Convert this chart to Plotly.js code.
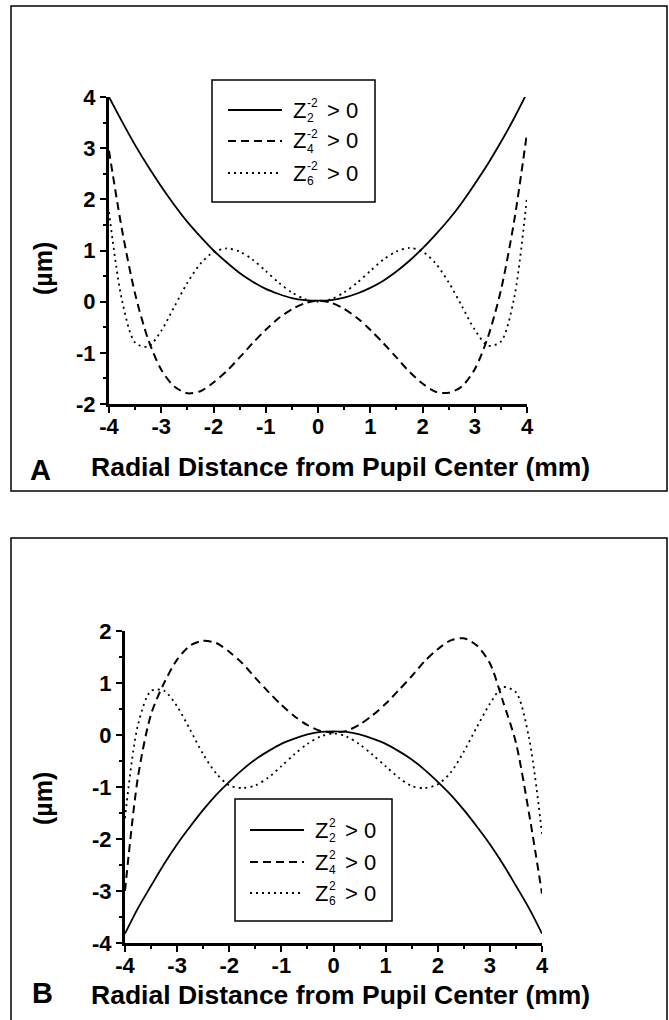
<!DOCTYPE html>
<html><head><meta charset="utf-8">
<script src="https://cdn.plot.ly/plotly-3.0.1.min.js"></script>
<style>html,body{margin:0;padding:0;background:#fff}#chart{width:669px;height:1020px}</style>
</head><body><div id="chart"></div>
<script>
// ---------- data ----------
const radialDistance = [-4,-3.75,-3.5,-3.25,-3,-2.75,-2.5,-2.25,-2,-1.75,-1.5,-1.25,-1,-0.75,-0.5,-0.25,0,
  0.25,0.5,0.75,1,1.25,1.5,1.75,2,2.25,2.5,2.75,3,3.25,3.5,3.75,4];

// Panel A
const aZ2 = [4.0,3.52,3.06,2.64,2.25,1.89,1.56,1.27,1.0,0.77,0.56,0.39,0.25,0.15,0.07,0.03,0.02,
  0.03,0.08,0.16,0.27,0.41,0.59,0.8,1.04,1.31,1.6,1.93,2.3,2.69,3.12,3.58,4.08];
const aZ4 = [2.95,1.4,0.15,-0.74,-1.33,-1.66,-1.79,-1.75,-1.58,-1.36,-1.09,-0.81,-0.55,-0.32,-0.15,-0.03,0.02,
  -0.02,-0.14,-0.32,-0.55,-0.81,-1.09,-1.37,-1.6,-1.76,-1.78,-1.66,-1.32,-0.7,0.22,1.55,3.3];
const aZ6 = [1.75,0.02,-0.8,-0.88,-0.57,-0.1,0.37,0.74,0.97,1.04,0.98,0.82,0.6,0.37,0.18,0.05,0.0,
  0.05,0.18,0.37,0.6,0.82,0.98,1.05,0.98,0.75,0.38,-0.08,-0.55,-0.86,-0.78,0.05,2.05];

// Panel B
const bZ2 = [-3.82,-3.33,-2.9,-2.48,-2.1,-1.76,-1.44,-1.15,-0.9,-0.67,-0.47,-0.31,-0.17,-0.07,0.01,0.06,0.07,
  0.06,0.01,-0.07,-0.17,-0.31,-0.47,-0.67,-0.9,-1.15,-1.44,-1.76,-2.1,-2.48,-2.9,-3.33,-3.82];
const bZ4 = [-3.0,-0.8,0.4,1.0,1.45,1.72,1.81,1.77,1.6,1.38,1.1,0.83,0.58,0.36,0.19,0.08,0.05,
  0.08,0.2,0.38,0.6,0.86,1.13,1.42,1.65,1.82,1.86,1.72,1.38,0.65,-0.15,-1.5,-3.05];
const bZ6 = [-1.6,0.2,0.85,0.85,0.55,0.1,-0.37,-0.74,-0.97,-1.02,-0.97,-0.82,-0.6,-0.37,-0.17,-0.03,0.03,
  -0.03,-0.18,-0.38,-0.6,-0.82,-0.98,-1.02,-0.95,-0.72,-0.32,0.15,0.6,0.92,0.82,-0.05,-1.9];

const xTickVals = [-4,-3,-2,-1,0,1,2,3,4];
const xTickText = ['-4','-3','-2','-1','0','1','2','3','4'];
const yTickValsA = [-2,-1,0,1,2,3,4];
const yTickTextA = ['-2','-1','0','1','2','3','4'];
const yTickValsB = [-4,-3,-2,-1,0,1,2];
const yTickTextB = ['-4','-3','-2','-1','0','1','2'];

const legendSubs = ['2','4','6'];
const legendSupA = '-2';
const legendSupB = '2';
const panelLetters = ['A','B'];
const xTitle = 'Radial Distance from Pupil Center (mm)';
const yTitle = '(µm)';

// ---------- styling ----------
const W = 669, H = 1020;
const FONT = 'Liberation Sans, Arial, Helvetica, sans-serif';
const px = v => v / W;
const py = v => 1 - v / H;
const styles = [
  {width: 1.8, dash: 'solid'},
  {width: 2, dash: '8px,5px'},
  {width: 1.8, dash: '2px,4px'}
];

function tr(y, s, xa, ya, name) {
  return {x: radialDistance, y: y, type: 'scatter', mode: 'lines', name: name,
    line: {color: '#000', width: styles[s].width, dash: styles[s].dash, shape: 'spline', smoothing: 0.8},
    xaxis: xa, yaxis: ya, showlegend: false, hoverinfo: 'skip'};
}

const data = [
  tr(aZ2, 0, 'x', 'y', 'Z2-2'), tr(aZ4, 1, 'x', 'y', 'Z4-2'), tr(aZ6, 2, 'x', 'y', 'Z6-2'),
  tr(bZ2, 0, 'x2', 'y2', 'Z22'), tr(bZ4, 1, 'x2', 'y2', 'Z42'), tr(bZ6, 2, 'x2', 'y2', 'Z62')
];

const axBase = {
  showgrid: false, zeroline: false, showline: true, linewidth: 3, linecolor: '#000',
  ticks: 'outside', ticklen: 6, tickwidth: 2, tickcolor: '#000', tickmode: 'array',
  tickfont: {family: FONT, size: 22, color: '#000', weight: 'bold'},
  minor: {dtick: 0.5, ticks: 'outside', ticklen: 3, tickwidth: 2, tickcolor: '#000'},
  fixedrange: true, mirror: false
};
const xExtra = {ticklabelstandoff: -5};

const layout = {
  width: W, height: H, margin: {l: 0, r: 0, t: 0, b: 0},
  paper_bgcolor: '#fff', plot_bgcolor: 'rgba(0,0,0,0)', showlegend: false,
  xaxis: Object.assign({}, axBase, xExtra, {domain: [px(109), px(527)], range: [-4, 4], anchor: 'y',
    tickvals: xTickVals, ticktext: xTickText}),
  yaxis: Object.assign({}, axBase, {domain: [py(404), py(97)], range: [-2, 4], anchor: 'x',
    tickvals: yTickValsA, ticktext: yTickTextA}),
  xaxis2: Object.assign({}, axBase, xExtra, {domain: [px(125), px(542)], range: [-4, 4], anchor: 'y2',
    tickvals: xTickVals, ticktext: xTickText}),
  yaxis2: Object.assign({}, axBase, {domain: [py(943), py(631)], range: [-4, 2], anchor: 'x2',
    tickvals: yTickValsB, ticktext: yTickTextB}),
  shapes: [],
  annotations: []
};

const S = layout.shapes, A = layout.annotations;
// panel frames
S.push({type: 'rect', xref: 'paper', yref: 'paper', x0: px(11), x1: px(667), y0: py(491), y1: py(6),
  line: {color: '#000', width: 1.5}});
S.push({type: 'path', xref: 'paper', yref: 'paper',
  path: `M ${px(11)} ${py(1021)} L ${px(11)} ${py(538)} L ${px(667)} ${py(538)} L ${px(667)} ${py(1021)}`,
  line: {color: '#000', width: 1.5}});

function ann(x, y, text, size, opts) {
  return Object.assign({xref: 'paper', yref: 'paper', x: px(x), y: py(y), text: text, showarrow: false,
    xanchor: 'center', yanchor: 'middle', borderpad: 0, font: {family: FONT, size: size, color: '#000'}}, opts || {});
}
const bold = s => ({family: FONT, size: s, color: '#000', weight: 'bold'});

// titles and panel letters
A.push(ann(340, 467, xTitle, 26.5, {font: bold(26.5)}));
A.push(ann(340, 995, xTitle, 26.5, {font: bold(26.5)}));
A.push(ann(43, 269, yTitle, 25, {textangle: -90, font: bold(25)}));
A.push(ann(43, 799, yTitle, 25, {textangle: -90, font: bold(25)}));
A.push(ann(40, 470, panelLetters[0], 29, {font: bold(29)}));
A.push(ann(42, 993, panelLetters[1], 29, {font: bold(29)}));

// legends
function legend(box, lx0, lx1, ys, zx, sup, gtOffset) {
  S.push({type: 'rect', xref: 'paper', yref: 'paper', x0: px(box[0]), x1: px(box[1]), y0: py(box[3]), y1: py(box[2]),
    line: {color: '#000', width: 1.5}, fillcolor: '#fff'});
  ys.forEach((ly, i) => {
    S.push({type: 'line', xref: 'paper', yref: 'paper', x0: px(lx0), x1: px(lx1), y0: py(ly), y1: py(ly),
      line: {color: '#000', width: styles[i].width, dash: styles[i].dash}});
    const f = (s) => ({family: FONT, size: s, color: '#000'});
    A.push(ann(zx, ly, 'Z', 22, {xanchor: 'left', font: f(22)}));
    A.push(ann(zx + 14, ly - 7, sup, 12, {xanchor: 'left', font: f(12)}));
    A.push(ann(zx + 14, ly + 8, legendSubs[i], 12, {xanchor: 'left', font: f(12)}));
    A.push(ann(zx + gtOffset, ly, '&gt; 0', 22, {xanchor: 'left', font: f(22)}));
  });
}
legend([212, 375, 80, 202], 228, 282, [110, 141, 173], 292, legendSupA, 34);
legend([235, 392, 799, 921], 250, 304, [830, 862, 893], 314, legendSupB, 30);

Plotly.newPlot('chart', data, layout, {staticPlot: true, displayModeBar: false});
</script></body></html>
